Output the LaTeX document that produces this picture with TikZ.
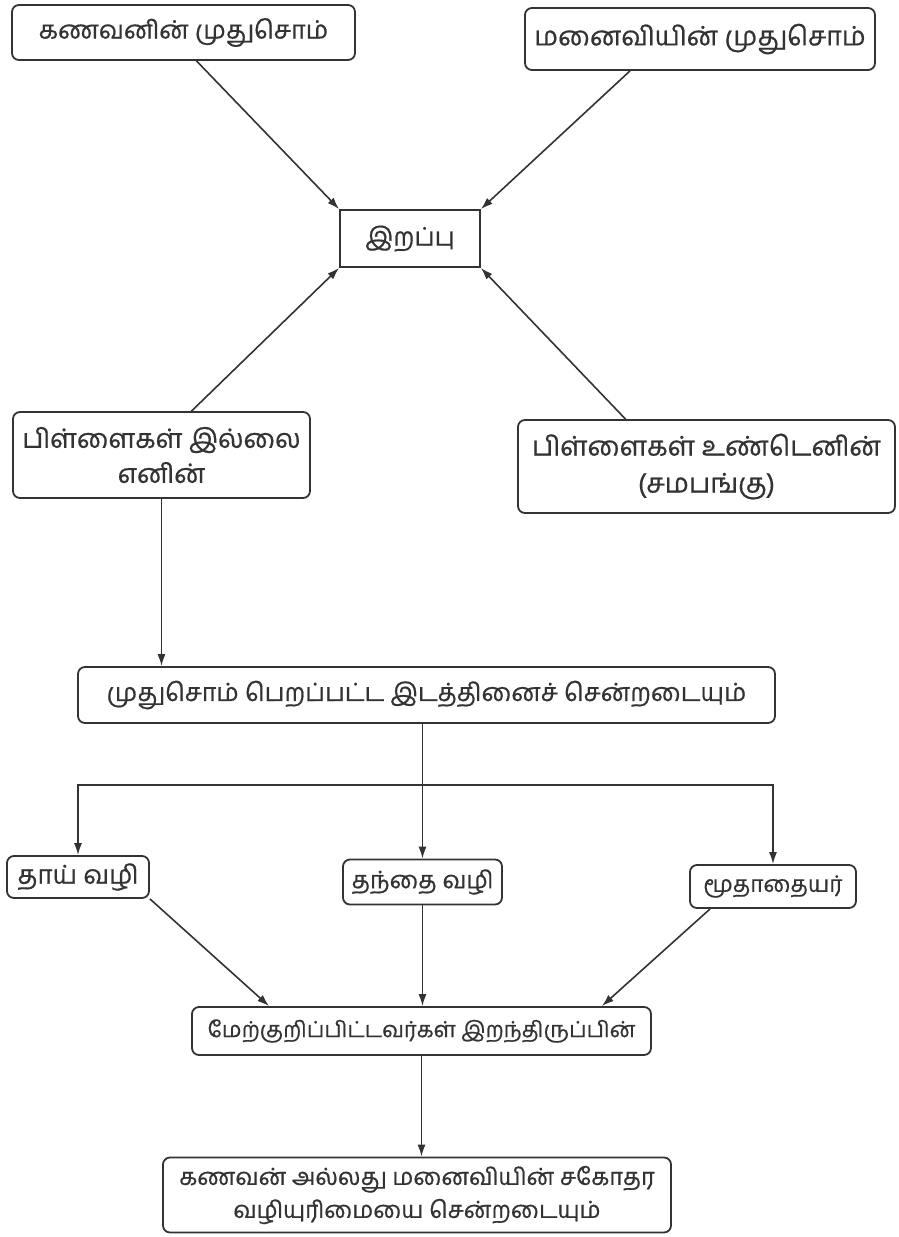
\documentclass[tikz,border=0pt]{standalone}
\usepackage{fontspec}
\newfontfamily\tamil[Script=Tamil,FakeBold=0.6]{Hind Madurai}
\usetikzlibrary{arrows.meta,calc}
\definecolor{ink}{HTML}{333333}
\newcommand{\fs}[2]{\fontsize{#1}{#2}\selectfont}
\begin{document}
\begin{tikzpicture}[x=1pt,y=1pt,
  box/.style={draw=ink, line width=1.8pt, rounded corners=7pt, inner sep=0pt, align=center,
    text=ink, font=\tamil},
  sharpbox/.style={box, rounded corners=0pt},
  arr/.style={draw=ink, line width=1.6pt, -{Latex[length=12pt,width=8pt]}}]
\useasboundingbox[fill=white] (0,0) rectangle (899,-1237);
% nodes
\node[box, minimum width=343pt, minimum height=55pt, font=\tamil\fs{25.2}{30}] (b1) at (183.5,-32.5) {கணவனின் முதுசொம்};
\node[box, minimum width=350pt, minimum height=62pt, font=\tamil\fs{26.7}{30}] (b2) at (700,-39) {மனைவியின் முதுசொம்};
\node[sharpbox, minimum width=140pt, minimum height=57pt, font=\tamil\fs{25.5}{30}] (death) at (410,-238.5) {இறப்பு};
\node[box, minimum width=297pt, minimum height=86pt, font=\tamil\fs{26.5}{35}] (b3) at (161.5,-455) {பிள்ளைகள் இல்லை\\எனின்};
\node[box, minimum width=377pt, minimum height=93pt, font=\tamil\fs{27}{37}] (b4) at (706.5,-466.5) {பிள்ளைகள் உண்டெனின்\\(சமபங்கு)};
\node[box, minimum width=697pt, minimum height=56pt, font=\tamil\fs{25}{30}] (b5) at (426.5,-695) {முதுசொம் பெறப்பட்ட இடத்தினைச் சென்றடையும்};
\node[box, minimum width=142pt, minimum height=42pt, font=\tamil\fs{26}{30}] (tay) at (78,-877) {தாய் வழி};
\node[box, minimum width=159pt, minimum height=45pt, font=\tamil\fs{24}{30}] (tand) at (422.5,-882) {தந்தை வழி};
\node[box, minimum width=166pt, minimum height=43pt, font=\tamil\fs{22.7}{30}] (mut) at (773,-886.5) {மூதாதையர்};
\node[box, minimum width=459pt, minimum height=48pt, font=\tamil\fs{22}{30}] (mer) at (421.5,-1031) {மேற்குறிப்பிட்டவர்கள் இறந்திருப்பின்};
\node[box, minimum width=508pt, minimum height=75pt, font=\tamil\fs{23.5}{33}] (fin) at (417,-1195) {கணவன் அல்லது மனைவியின் சகோதர\\வழியுரிமையை சென்றடையும்};
\coordinate (hl) at (0,-785);
% connectors
\draw[arr] ($(b1.south)+(13,0)$) -- (death.north west);
\draw[arr] ($(b2.south)+(-70,0)$) -- (death.north east);
\draw[arr] ($(b3.north)+(30,0)$) -- (death.south west);
\draw[arr] ($(b4.north)+(-81,0)$) -- (death.south east);
\draw[arr] (b3.south) -- (b3.south |- b5.north);
\draw[arr] (tand.north |- b5.south) -- (tand.north);
\draw[arr] (mut.north |- hl) -| (tay.north);
\draw[arr] (tay.north |- hl) -| (mut.north);
\draw[arr] (tay.south east) -- ($(mer.north west)+(78,0)$);
\draw[arr] (tand.south) -- (tand.south |- mer.north);
\draw[arr] ($(mut.south west)+(21,0)$) -- ($(mer.north east)+(-50,0)$);
\draw[arr] (mer.south) -- (mer.south |- fin.north);
\end{tikzpicture}
\end{document}
